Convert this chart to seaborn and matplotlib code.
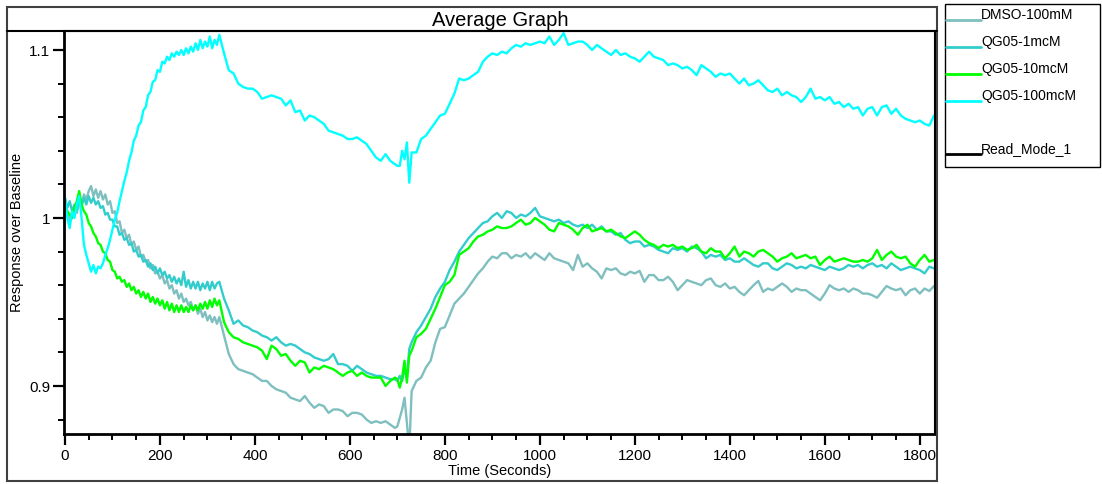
import numpy as np
import pandas as pd
import seaborn as sns
import matplotlib
matplotlib.use("Agg")
import matplotlib.pyplot as plt
from matplotlib.lines import Line2D
from matplotlib.patches import Rectangle
from matplotlib.ticker import MultipleLocator, FixedLocator, FixedFormatter

# ---------------------------------------------------------------- data
# sampling times (s): fast reads before the addition, slower reads after
t_early = np.arange(0, 330, 5)          # 0 .. 325
t_mid = np.arange(335, 700, 10)         # 335 .. 695
t_spike = np.arange(700, 735, 5)        # 700 .. 730 (addition)
t_late = np.arange(740, 1840, 10)       # 740 .. 1830

series_names = ["DMSO-100mM", "QG05-1mcM", "QG05-10mcM", "QG05-100mcM"]
series_colors = ["#7fbfbf", "#33cccc", "#00ff00", "#00ffff"]
extra_legend = "Read_Mode_1"

dmso_early = [1.010, 1.004, 0.998, 1.000, 1.006, 1.003, 1.010, 1.008, 1.014, 1.011,
              1.016, 1.019, 1.013, 1.017, 1.012, 1.016, 1.011, 1.014, 1.008, 1.010,
              1.003, 1.004, 0.997, 0.998, 0.991, 0.993, 0.988, 0.990, 0.984, 0.986,
              0.981, 0.983, 0.977, 0.978, 0.974, 0.975, 0.970, 0.972, 0.967, 0.968,
              0.964, 0.966, 0.961, 0.963, 0.958, 0.960, 0.955, 0.957, 0.952, 0.955,
              0.950, 0.952, 0.948, 0.950, 0.945, 0.948, 0.943, 0.946, 0.941, 0.944,
              0.939, 0.942, 0.938, 0.941, 0.937, 0.941]
dmso_mid = [0.930, 0.919, 0.913, 0.910, 0.909, 0.908, 0.907, 0.905, 0.903, 0.903,
            0.900, 0.898, 0.897, 0.896, 0.893, 0.892, 0.891, 0.894, 0.890, 0.887,
            0.889, 0.888, 0.884, 0.886, 0.886, 0.885, 0.882, 0.884, 0.884, 0.883,
            0.880, 0.878, 0.879, 0.878, 0.879, 0.877, 0.875]
dmso_spike = [0.876, 0.881, 0.886, 0.893, 0.878, 0.862, 0.897]
dmso_late = [0.903, 0.905, 0.911, 0.915, 0.926, 0.934, 0.935, 0.942, 0.949, 0.952,
             0.955, 0.959, 0.963, 0.967, 0.970, 0.974, 0.977, 0.976, 0.979, 0.979,
             0.976, 0.978, 0.977, 0.979, 0.976, 0.979, 0.977, 0.975, 0.979, 0.976,
             0.975, 0.974, 0.973, 0.969, 0.978, 0.971, 0.973, 0.970, 0.968, 0.964,
             0.970, 0.969, 0.970, 0.967, 0.966, 0.968, 0.967, 0.9685, 0.962, 0.966,
             0.966, 0.963, 0.963, 0.965, 0.962, 0.957, 0.960, 0.963, 0.962, 0.961,
             0.960, 0.963, 0.964, 0.960, 0.959, 0.961, 0.958, 0.959, 0.956, 0.954,
             0.957, 0.960, 0.9625, 0.956, 0.958, 0.957, 0.959, 0.961, 0.959, 0.956,
             0.958, 0.957, 0.957, 0.955, 0.953, 0.951, 0.955, 0.960, 0.958, 0.957,
             0.958, 0.956, 0.958, 0.957, 0.955, 0.955, 0.954, 0.9525, 0.956, 0.9595,
             0.958, 0.957, 0.958, 0.954, 0.957, 0.958, 0.955, 0.958, 0.9565, 0.9595]

qg1_early = [1.012, 1.006, 1.010, 1.004, 1.008, 1.005, 1.011, 1.007, 1.012, 1.008,
             1.013, 1.009, 1.012, 1.008, 1.010, 1.006, 1.007, 1.002, 1.003, 0.999,
             0.999, 0.995, 0.995, 0.990, 0.991, 0.987, 0.988, 0.984, 0.985, 0.980,
             0.981, 0.977, 0.978, 0.974, 0.975, 0.971, 0.973, 0.969, 0.971, 0.967,
             0.970, 0.966, 0.968, 0.964, 0.966, 0.962, 0.965, 0.961, 0.964, 0.960,
             0.968, 0.959, 0.963, 0.958, 0.962, 0.958, 0.962, 0.957, 0.961, 0.958,
             0.962, 0.957, 0.962, 0.958, 0.961, 0.962]
qg1_mid = [0.952, 0.945, 0.937, 0.939, 0.936, 0.935, 0.933, 0.932, 0.930, 0.929,
           0.927, 0.929, 0.926, 0.924, 0.925, 0.924, 0.922, 0.920, 0.919, 0.917,
           0.916, 0.915, 0.916, 0.919, 0.913, 0.913, 0.912, 0.909, 0.912, 0.910,
           0.908, 0.907, 0.906, 0.906, 0.905, 0.904, 0.904]
qg1_spike = [0.903, 0.906, 0.903, 0.910, 0.905, 0.922, 0.926]
qg1_late = [0.932, 0.936, 0.941, 0.946, 0.953, 0.958, 0.962, 0.969, 0.974, 0.980,
            0.984, 0.988, 0.991, 0.994, 0.997, 0.998, 1.001, 1.003, 1.000, 1.004,
            1.003, 1.000, 1.002, 1.001, 1.003, 1.006, 1.001, 1.000, 0.999, 0.998,
            0.999, 0.997, 0.998, 0.996, 0.995, 0.996, 0.994, 0.996, 0.993, 0.995,
            0.992, 0.992, 0.990, 0.991, 0.987, 0.985, 0.986, 0.986, 0.983, 0.984,
            0.983, 0.981, 0.980, 0.979, 0.982, 0.981, 0.982, 0.980, 0.983, 0.982,
            0.980, 0.976, 0.978, 0.977, 0.978, 0.975, 0.976, 0.974, 0.974, 0.976,
            0.974, 0.972, 0.971, 0.973, 0.973, 0.970, 0.969, 0.971, 0.973, 0.972,
            0.970, 0.971, 0.970, 0.972, 0.971, 0.970, 0.969, 0.971, 0.970, 0.969,
            0.970, 0.972, 0.971, 0.972, 0.970, 0.972, 0.973, 0.971, 0.972, 0.970,
            0.973, 0.971, 0.969, 0.970, 0.971, 0.970, 0.969, 0.967, 0.971, 0.970]

qg10_early = [1.006, 1.004, 1.002, 1.000, 1.006, 1.010, 1.016, 1.008, 1.004, 1.002,
              0.997, 0.995, 0.991, 0.989, 0.985, 0.984, 0.980, 0.979, 0.975, 0.974,
              0.969, 0.968, 0.964, 0.965, 0.962, 0.963, 0.959, 0.961, 0.957, 0.959,
              0.955, 0.957, 0.953, 0.956, 0.952, 0.955, 0.950, 0.953, 0.949, 0.952,
              0.948, 0.951, 0.946, 0.950, 0.945, 0.949, 0.944, 0.948, 0.944, 0.948,
              0.944, 0.947, 0.944, 0.948, 0.945, 0.948, 0.945, 0.949, 0.946, 0.950,
              0.946, 0.951, 0.947, 0.952, 0.948, 0.951]
qg10_mid = [0.938, 0.932, 0.929, 0.928, 0.926, 0.925, 0.924, 0.923, 0.921, 0.916,
            0.924, 0.922, 0.918, 0.919, 0.915, 0.912, 0.915, 0.914, 0.908, 0.911,
            0.910, 0.912, 0.911, 0.910, 0.908, 0.906, 0.908, 0.909, 0.906, 0.908,
            0.906, 0.905, 0.905, 0.905, 0.900, 0.903, 0.905]
qg10_spike = [0.904, 0.899, 0.905, 0.915, 0.902, 0.918, 0.921]
qg10_late = [0.929, 0.931, 0.934, 0.940, 0.946, 0.953, 0.960, 0.962, 0.966, 0.978,
             0.980, 0.982, 0.986, 0.989, 0.990, 0.992, 0.993, 0.995, 0.994, 0.994,
             0.995, 0.997, 0.999, 0.996, 0.997, 1.000, 0.998, 0.996, 0.993, 0.992,
             0.997, 0.996, 0.995, 0.993, 0.990, 0.994, 0.996, 0.992, 0.993, 0.994,
             0.992, 0.993, 0.991, 0.989, 0.988, 0.990, 0.992, 0.990, 0.987, 0.985,
             0.984, 0.982, 0.984, 0.983, 0.984, 0.982, 0.983, 0.981, 0.982, 0.984,
             0.980, 0.979, 0.982, 0.980, 0.980, 0.976, 0.979, 0.983, 0.977, 0.980,
             0.979, 0.977, 0.980, 0.981, 0.979, 0.977, 0.974, 0.976, 0.977, 0.979,
             0.976, 0.977, 0.978, 0.976, 0.977, 0.972, 0.975, 0.977, 0.974, 0.975,
             0.976, 0.975, 0.974, 0.974, 0.975, 0.974, 0.976, 0.981, 0.975, 0.978,
             0.980, 0.977, 0.976, 0.977, 0.973, 0.971, 0.975, 0.978, 0.974, 0.975]

qg100_early = [1.012, 1.000, 0.994, 1.004, 1.000, 1.008, 1.013, 1.000, 0.984, 0.978,
               0.973, 0.968, 0.972, 0.967, 0.971, 0.970, 0.973, 0.978, 0.982, 0.987,
               0.993, 0.999, 1.003, 1.010, 1.016, 1.022, 1.027, 1.034, 1.039, 1.046,
               1.049, 1.055, 1.057, 1.064, 1.066, 1.073, 1.075, 1.081, 1.082, 1.088,
               1.087, 1.093, 1.092, 1.096, 1.094, 1.098, 1.096, 1.099, 1.097, 1.100,
               1.097, 1.101, 1.098, 1.102, 1.099, 1.104, 1.100, 1.106, 1.101, 1.105,
               1.102, 1.108, 1.101, 1.106, 1.103, 1.109]
qg100_mid = [1.098, 1.088, 1.086, 1.080, 1.078, 1.077, 1.077, 1.075, 1.071, 1.072,
             1.073, 1.072, 1.071, 1.067, 1.070, 1.063, 1.064, 1.058, 1.061, 1.060,
             1.058, 1.056, 1.052, 1.051, 1.050, 1.049, 1.047, 1.047, 1.048, 1.046,
             1.044, 1.040, 1.036, 1.034, 1.038, 1.034, 1.032]
qg100_spike = [1.031, 1.031, 1.040, 1.035, 1.045, 1.021, 1.039]
qg100_late = [1.039, 1.047, 1.049, 1.053, 1.057, 1.061, 1.062, 1.068, 1.074, 1.083,
              1.082, 1.083, 1.085, 1.087, 1.093, 1.096, 1.098, 1.097, 1.099, 1.098,
              1.101, 1.103, 1.102, 1.104, 1.103, 1.104, 1.105, 1.104, 1.108, 1.103,
              1.106, 1.110, 1.103, 1.104, 1.105, 1.105, 1.103, 1.100, 1.103, 1.101,
              1.099, 1.097, 1.100, 1.097, 1.098, 1.096, 1.095, 1.093, 1.096, 1.099,
              1.096, 1.095, 1.094, 1.091, 1.092, 1.091, 1.089, 1.090, 1.088, 1.085,
              1.091, 1.089, 1.087, 1.084, 1.086, 1.085, 1.086, 1.083, 1.080, 1.083,
              1.079, 1.080, 1.082, 1.079, 1.076, 1.075, 1.077, 1.073, 1.075, 1.073,
              1.072, 1.069, 1.072, 1.077, 1.071, 1.072, 1.070, 1.072, 1.068, 1.069,
              1.066, 1.068, 1.065, 1.066, 1.061, 1.065, 1.066, 1.061, 1.066, 1.067,
              1.062, 1.065, 1.061, 1.059, 1.058, 1.057, 1.058, 1.056, 1.055, 1.061]

time_all = np.concatenate([t_early, t_mid, t_spike, t_late])
values = {
    "DMSO-100mM": dmso_early + dmso_mid + dmso_spike + dmso_late,
    "QG05-1mcM": qg1_early + qg1_mid + qg1_spike + qg1_late,
    "QG05-10mcM": qg10_early + qg10_mid + qg10_spike + qg10_late,
    "QG05-100mcM": qg100_early + qg100_mid + qg100_spike + qg100_late,
}

frames = []
for name in series_names:
    v = values[name]
    assert len(v) == len(time_all), (name, len(v), len(time_all))
    frames.append(pd.DataFrame({"Time": time_all, "Response": v, "Series": name}))
df = pd.concat(frames, ignore_index=True)

# ---------------------------------------------------------------- style
sns.set_theme(style="ticks")
plt.rcParams["font.family"] = ["Liberation Sans", "DejaVu Sans"]

W, H = 1102, 485
fig = plt.figure(figsize=(W / 100, H / 100), dpi=100)


def fx(px):
    return px / W


def fy(py):
    return 1 - py / H


ax = fig.add_axes([fx(64), fy(435), fx(935) - fx(64), fy(32) - fy(435)])

sns.lineplot(data=df, x="Time", y="Response", hue="Series",
             hue_order=series_names,
             palette=dict(zip(series_names, series_colors)),
             linewidth=1.7, legend=False, ax=ax, estimator=None, sort=False)

ax.set_xlim(-2, 1832)
ax.set_ylim(0.8714, 1.1113)

ax.xaxis.set_major_locator(MultipleLocator(200))
ax.xaxis.set_minor_locator(MultipleLocator(50))
ax.yaxis.set_major_locator(FixedLocator([0.9, 1.0, 1.1]))
ax.yaxis.set_major_formatter(FixedFormatter(["0.9", "1", "1.1"]))
ax.yaxis.set_minor_locator(MultipleLocator(0.02))

ax.tick_params(axis="both", which="major", direction="out", length=8,
               width=1.6, color="black", labelsize=11, labelcolor="black", pad=2)
ax.tick_params(axis="both", which="minor", direction="out", length=4,
               width=1.4, color="black")

for side in ["left", "bottom"]:
    ax.spines[side].set_linewidth(2.0)
    ax.spines[side].set_color("black")
for side in ["top", "right"]:
    ax.spines[side].set_visible(True)
    ax.spines[side].set_linewidth(1.5)
    ax.spines[side].set_color("black")

ax.set_xlabel("Time (Seconds)", fontsize=10.5, color="black", labelpad=1)
ax.set_ylabel("")
fig.text(fx(17), fy(232), "Response over Baseline", rotation=90,
         ha="center", va="center", fontsize=10.5, color="black")

# outer frame and title band
fig.add_artist(Rectangle((fx(7), fy(482)), fx(937) - fx(7), fy(8) - fy(482),
                         transform=fig.transFigure, fill=False,
                         edgecolor="#404040", linewidth=1.5))
fig.add_artist(Line2D([fx(7), fx(937)], [fy(32), fy(32)],
                      transform=fig.transFigure, color="black", linewidth=1.5))
fig.text(fx(500), fy(20), "Average Graph", ha="center", va="center",
         fontsize=14.5, color="black")

# legend panel
fig.add_artist(Rectangle((fx(945), fy(168)), fx(1100) - fx(945), fy(5) - fy(168),
                         transform=fig.transFigure, fill=False,
                         edgecolor="black", linewidth=1.0))
legend_rows = [21, 48, 75, 102]
for name, color, row in zip(series_names, series_colors, legend_rows):
    fig.add_artist(Line2D([fx(946), fx(981)], [fy(row), fy(row)],
                          transform=fig.transFigure, color=color, linewidth=2.0))
    fig.text(fx(981), fy(row + 1), name, ha="left", va="bottom",
             fontsize=10, color="black")
fig.add_artist(Line2D([fx(946), fx(981)], [fy(155), fy(155)],
                      transform=fig.transFigure, color="black", linewidth=2.0))
fig.text(fx(981), fy(156), extra_legend, ha="left", va="bottom",
         fontsize=10, color="black")

fig.savefig("out.png", dpi=100, facecolor="white")
